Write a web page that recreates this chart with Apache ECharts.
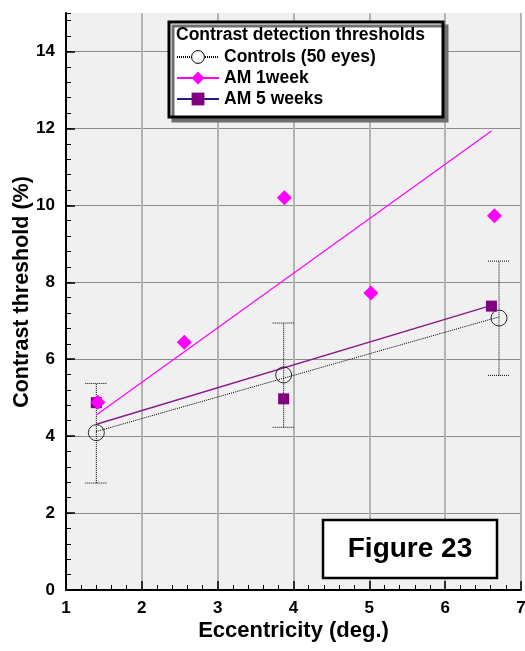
<!DOCTYPE html>
<html>
<head>
<meta charset="utf-8">
<script src="https://cdn.jsdelivr.net/npm/echarts@6/dist/echarts.min.js"></script>
<style>
  html, body { margin: 0; padding: 0; background: #fff; }
  #chart { width: 525px; height: 651px; }
</style>
</head>
<body>
<div id="chart"></div>
<script>
// Contrast detection thresholds vs eccentricity
const legendTitle = 'Contrast detection thresholds';
const seriesNames = ['Controls (50 eyes)', 'AM 1week', 'AM 5 weeks'];

// Controls: mean with error bars
const controlsX = [1.4, 3.87, 6.71];
const controlsY = [4.09, 5.59, 7.07];
const controlsLow = [2.78, 4.23, 5.58];
const controlsHigh = [5.37, 6.94, 8.55];

// AM after 1 week
const am1X = [1.42, 2.56, 3.88, 5.02, 6.65];
const am1Y = [4.88, 6.44, 10.2, 7.72, 9.73];

// AM after 5 weeks
const am5X = [1.4, 3.87, 6.61];
const am5Y = [4.87, 4.97, 7.38];

// Fitted trend lines (end points)
const controlsFitX = [1.4, 6.71];
const controlsFitY = [4.12, 7.1];
const am1FitX = [1.4, 6.61];
const am1FitY = [4.55, 11.93];
const am5FitX = [1.4, 6.61];
const am5FitY = [4.31, 7.4];

const xName = 'Eccentricity (deg.)';
const yName = 'Contrast threshold (%)';
const figureLabel = 'Figure 23';

const FONT = '"Liberation Sans", Arial, Helvetica, sans-serif';
const pairs = (xs, ys) => xs.map((x, i) => [x, ys[i]]);

const chart = echarts.init(document.getElementById('chart'), null, { renderer: 'canvas' });

const dotted = [1, 1];

const option = {
  animation: false,
  backgroundColor: '#fff',
  grid: {
    left: 66, right: 4, top: 13, bottom: 61,
    containLabel: false, outerBoundsMode: 'none',
    show: true, backgroundColor: '#f0f0f0', borderWidth: 0
  },
  xAxis: {
    type: 'value', min: 1, max: 7, interval: 1,
    name: xName, nameLocation: 'middle', nameGap: 30, nameMoveOverlap: false,
    nameTextStyle: { fontFamily: FONT, fontWeight: 'bold', fontSize: 22, color: '#000' },
    axisLine: { show: true, onZero: false, lineStyle: { color: '#000', width: 2 } },
    axisTick: { show: true, inside: true, length: 9, lineStyle: { color: '#000', width: 1.5 } },
    minorTick: { show: true, splitNumber: 5, length: 5, lineStyle: { color: '#000', width: 1 } },
    axisLabel: { fontFamily: FONT, fontWeight: 'bold', fontSize: 17, color: '#000', margin: 10 },
    splitLine: { show: true, lineStyle: { color: '#b4b4b4', width: 2 } }
  },
  yAxis: [{
    type: 'value', min: 0, max: 15, interval: 2,
    name: yName, nameLocation: 'middle', nameGap: 33, nameMoveOverlap: false,
    nameTextStyle: {
      fontFamily: FONT, fontWeight: 'bold', fontSize: 21.5, color: '#000',
      padding: [0, 0, 0, 19]
    },
    axisLine: { show: true, onZero: false, lineStyle: { color: '#000', width: 2 } },
    axisTick: { show: true, inside: true, length: 9, lineStyle: { color: '#000', width: 1.5 } },
    axisLabel: {
      fontFamily: FONT, fontWeight: 'bold', fontSize: 17, color: '#000', margin: 11,
      showMaxLabel: false,
      formatter: v => (v % 2 === 0 ? String(v) : '')
    },
    splitLine: { show: true, showMaxLine: false, lineStyle: { color: '#8c8c8c', width: 1 } }
  }, {
    // short minor ticks every 0.4
    type: 'value', min: 0, max: 15, interval: 0.4, position: 'left',
    axisLine: { show: false },
    axisTick: { show: true, inside: true, length: 5, lineStyle: { color: '#000', width: 1 } },
    axisLabel: { show: false },
    splitLine: { show: false }
  }],
  legend: {
    orient: 'vertical',
    left: 176, top: 48,
    padding: 0,
    itemWidth: 42, itemHeight: 16, itemGap: 3,
    selectedMode: false,
    textStyle: { fontFamily: FONT, fontWeight: 'bold', fontSize: 17.5, color: '#000', lineHeight: 18 },
    data: [
      { name: seriesNames[0], itemStyle: { color: '#fff', borderColor: '#000', borderWidth: 1 } },
      { name: seriesNames[1] },
      { name: seriesNames[2], lineStyle: { color: '#1f1f85' } }
    ],
    z: 20
  },
  graphic: [
    {
      type: 'rect', z: 10, silent: true,
      shape: { x: 169, y: 22, width: 274, height: 95 },
      style: {
        fill: '#fff', stroke: '#000', lineWidth: 3,
        shadowColor: '#6e6e6e', shadowOffsetX: 4, shadowOffsetY: 4, shadowBlur: 0
      }
    },
    {
      type: 'text', z: 11, silent: true,
      x: 176, y: 35,
      style: {
        text: legendTitle, fill: '#000',
        font: 'bold 17.5px ' + FONT,
        textVerticalAlign: 'middle'
      }
    },
    {
      type: 'rect', z: 10, silent: true,
      shape: { x: 323, y: 520, width: 174, height: 58 },
      style: { fill: '#fff', stroke: '#000', lineWidth: 2.5 }
    },
    {
      type: 'text', z: 11, silent: true,
      x: 410, y: 549,
      style: {
        text: figureLabel, fill: '#000',
        font: 'bold 28px ' + FONT,
        textAlign: 'center', textVerticalAlign: 'middle'
      }
    }
  ],
  series: [
    {
      // error bars for controls
      name: 'Controls range',
      type: 'custom',
      data: controlsX.map((x, i) => [x, controlsLow[i], controlsHigh[i]]),
      encode: { x: 0, y: [1, 2] },
      renderItem: function (params, api) {
        const lo = api.coord([api.value(0), api.value(1)]);
        const hi = api.coord([api.value(0), api.value(2)]);
        const w = 11;
        const style = { stroke: '#000', lineWidth: 1, lineDash: dotted, fill: null };
        return {
          type: 'group',
          children: [
            { type: 'line', shape: { x1: lo[0], y1: lo[1], x2: hi[0], y2: hi[1] }, style },
            { type: 'line', shape: { x1: hi[0] - w, y1: hi[1], x2: hi[0] + w, y2: hi[1] }, style },
            { type: 'line', shape: { x1: lo[0] - w, y1: lo[1], x2: lo[0] + w, y2: lo[1] }, style }
          ]
        };
      },
      z: 2
    },
    {
      name: seriesNames[0], type: 'line',
      data: pairs(controlsFitX, controlsFitY),
      showSymbol: false, symbol: 'circle', symbolSize: 16,
      lineStyle: { color: '#000', width: 1, type: dotted },
      itemStyle: { color: 'rgba(0,0,0,0)', borderColor: '#000', borderWidth: 1 },
      emphasis: { disabled: true },
      z: 3
    },
    {
      name: seriesNames[1], type: 'line',
      data: pairs(am1FitX, am1FitY),
      showSymbol: false, symbol: 'diamond', symbolSize: 14,
      lineStyle: { color: '#ff00ff', width: 1.2 },
      itemStyle: { color: '#ff00ff' },
      emphasis: { disabled: true },
      z: 3
    },
    {
      name: seriesNames[2], type: 'line',
      data: pairs(am5FitX, am5FitY),
      showSymbol: false, symbol: 'rect', symbolSize: 11,
      lineStyle: { color: '#8a1a8a', width: 1.5 },
      itemStyle: { color: '#800080' },
      emphasis: { disabled: true },
      z: 3
    },
    {
      name: seriesNames[0], type: 'scatter',
      data: pairs(controlsX, controlsY),
      symbol: 'circle', symbolSize: 16,
      itemStyle: { color: 'rgba(0,0,0,0)', borderColor: '#000', borderWidth: 1 },
      z: 4
    },
    {
      name: seriesNames[2], type: 'scatter',
      data: pairs(am5X, am5Y),
      symbol: 'rect', symbolSize: 11,
      itemStyle: { color: '#800080', opacity: 1 },
      z: 4
    },
    {
      name: seriesNames[1], type: 'scatter',
      data: pairs(am1X, am1Y),
      symbol: 'diamond', symbolSize: [15, 15],
      itemStyle: { color: '#ff00ff', opacity: 1 },
      z: 5
    }
  ]
};

chart.setOption(option);
</script>
</body>
</html>
